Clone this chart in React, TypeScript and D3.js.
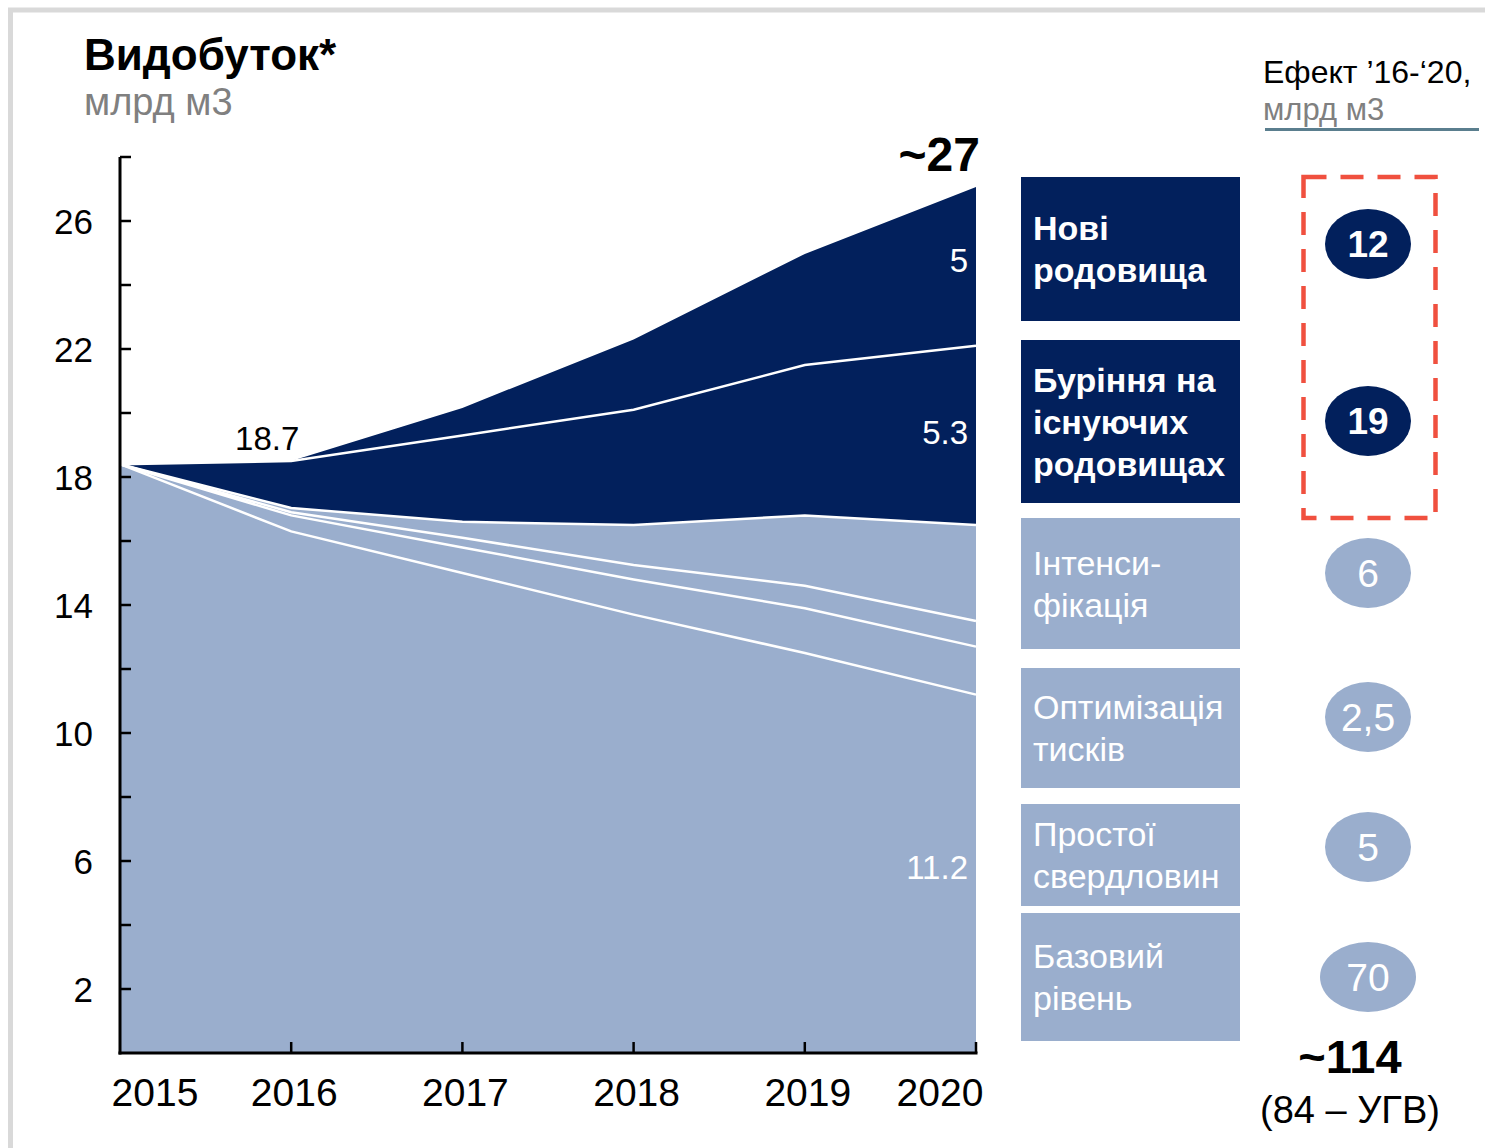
import * as d3 from 'd3'

const years = [2015, 2016, 2017, 2018, 2019, 2020]

// bcm per layer, bottom → top
const baseLevel = [18.4, 16.3, 15.0, 13.7, 12.5, 11.2]
const idleWells = [0, 0.5, 0.8, 1.1, 1.4, 1.5]
const pressureOpt = [0, 0.1, 0.3, 0.45, 0.7, 0.8]
const intensification = [0, 0.13, 0.5, 1.25, 2.2, 3.0]
const drillingExisting = [0, 1.47, 2.7, 3.6, 4.7, 5.6]
const newFields = [0, 0, 0.86, 2.2, 3.47, 4.96]

const yTickLabels = [2, 6, 10, 14, 18, 22, 26]

const layerKeys = ['base', 'idle', 'opt', 'intens', 'drill', 'newf']
const layerDark = ['drill', 'newf']

const legendLines = [
  ['Нові', 'родовища'],
  ['Буріння на', 'існуючих', 'родовищах'],
  ['Інтенси-', 'фікація'],
  ['Оптимізація', 'тисків'],
  ['Простої', 'свердловин'],
  ['Базовий', 'рівень'],
]
const effectValues = ['12', '19', '6', '2,5', '5', '70']

const NAVY = '#02205c'
const LIGHT = '#9aaecd'
const FONT = '"Liberation Sans", Arial, sans-serif'

export default function App() {
  const width = 1485
  const height = 1148
  const left = 120
  const right = 976
  const top = 157
  const bottom = 1053

  const rows = years.map((year, i) => ({
    year,
    base: baseLevel[i],
    idle: idleWells[i],
    opt: pressureOpt[i],
    intens: intensification[i],
    drill: drillingExisting[i],
    newf: newFields[i],
  }))

  const x = d3.scaleLinear().domain([2015, 2020]).range([left, right])
  const y = d3.scaleLinear().domain([0, 28]).range([bottom, top])

  const stack = d3.stack<any>().keys(layerKeys)
  const series = stack(rows)

  const area = d3.area<any>()
    .x(d => x(d.data.year))
    .y0(d => y(d[0]))
    .y1(d => y(d[1]))

  const topLine = d3.line<any>()
    .x(d => x(d.data.year))
    .y(d => y(d[1]))

  const last = years.length - 1
  const totalLast = series[series.length - 1][last][1]
  const mid = (s: any) => y((s[last][0] + s[last][1]) / 2)
  const bandLabel = (key: string) => series.find(s => s.key === key)!

  // legend boxes on the right, top → bottom
  const boxes = [
    { y0: 177, y1: 321, dark: true },
    { y0: 340, y1: 503, dark: true },
    { y0: 518, y1: 649, dark: false },
    { y0: 668, y1: 788, dark: false },
    { y0: 804, y1: 906, dark: false },
    { y0: 913, y1: 1041, dark: false },
  ]
  const ellipseY = [244, 421, 573, 717, 847, 977]

  return (
    <svg
      width={width}
      height={height}
      style={{ position: 'absolute', left: 0, top: 0, background: '#fff' }}
      fontFamily={FONT}
    >
      <rect x={10.5} y={10} width={1520} height={1200} fill="none" stroke="#d9d9d9" strokeWidth={5} />

      {/* titles */}
      <text x={84} y={70} fontSize={44} fontWeight="bold" fill="#000">Видобуток*</text>
      <text x={84} y={115} fontSize={38} fill="#808080">млрд м3</text>

      {/* stacked areas */}
      {series.map(s => (
        <path key={s.key} d={area(s) || ''} fill={layerDark.includes(s.key) ? NAVY : LIGHT} />
      ))}
      {series.slice(0, -1).map(s => (
        <path key={'l' + s.key} d={topLine(s) || ''} fill="none" stroke="#fff" strokeWidth={2.5} />
      ))}

      {/* axes */}
      <line x1={left} x2={left} y1={y(28)} y2={bottom + 1.5} stroke="#000" strokeWidth={3} />
      <line x1={left - 1.5} x2={right + 1.5} y1={bottom} y2={bottom} stroke="#000" strokeWidth={3} />
      {d3.range(2, 29, 2).map(v => (
        <line key={'yt' + v} x1={left} x2={left + 11} y1={y(v)} y2={y(v)} stroke="#000" strokeWidth={2.5} />
      ))}
      {yTickLabels.map(v => (
        <text key={'yl' + v} x={93} y={y(v)} fontSize={35} textAnchor="end" dominantBaseline="central" fill="#000">{v}</text>
      ))}
      {years.slice(1).map(yr => (
        <line key={'xt' + yr} x1={x(yr)} x2={x(yr)} y1={bottom} y2={bottom - 11} stroke="#000" strokeWidth={2.5} />
      ))}
      {years.map(yr => (
        <text
          key={'xl' + yr}
          x={Math.min(Math.max(x(yr) + 3, left + 35), right - 36)}
          y={1106}
          fontSize={39}
          textAnchor="middle"
          fill="#000"
        >{yr}</text>
      ))}

      {/* value labels */}
      <text x={x(2016) - 24} y={450} fontSize={33} textAnchor="middle" fill="#000">18.7</text>
      <text x={right + 4} y={y(totalLast) - 16} fontSize={48} fontWeight="bold" textAnchor="end" fill="#000">~27</text>
      <text x={right - 8} y={mid(bandLabel('newf')) - 6} fontSize={33} textAnchor="end" dominantBaseline="central" fill="#fff">5</text>
      <text x={right - 8} y={y(19.4)} fontSize={33} textAnchor="end" dominantBaseline="central" fill="#fff">5.3</text>
      <text x={right - 8} y={y(5.8)} fontSize={33} textAnchor="end" dominantBaseline="central" fill="#fff">11.2</text>

      {/* legend boxes */}
      {boxes.map((b, i) => (
        <g key={'b' + i}>
          <rect x={1021} y={b.y0} width={219} height={b.y1 - b.y0} fill={b.dark ? NAVY : LIGHT} />
          {legendLines[i].map((t, j) => {
            const n = legendLines[i].length
            const cy = (b.y0 + b.y1) / 2
            const base = cy - 9 - (n - 2) * 21 + j * 42
            return (
              <text key={j} x={1033} y={base} fontSize={34} fontWeight={b.dark ? 'bold' : 'normal'} fill="#fff">{t}</text>
            )
          })}
        </g>
      ))}

      {/* effect header */}
      <text x={1263} y={83} fontSize={32} fill="#000">Ефект ’16-‘20,</text>
      <text x={1263} y={120} fontSize={31} fill="#808080">млрд м3</text>
      <line x1={1265} x2={1479} y1={129.5} y2={129.5} stroke="#5a7e8e" strokeWidth={3} />

      {/* effect ellipses */}
      <rect x={1303.5} y={177} width={132} height={341} fill="none" stroke="#f0503f" strokeWidth={4.5} strokeDasharray="23 14" />
      {effectValues.map((v, i) => {
        const dark = i < 2
        const rx = v === '70' ? 48 : 43
        return (
          <g key={'e' + i}>
            <ellipse cx={1368} cy={ellipseY[i]} rx={rx} ry={35} fill={dark ? NAVY : LIGHT} />
            <text x={1368} y={ellipseY[i]} fontSize={dark ? 37 : 39} fontWeight={dark ? 'bold' : 'normal'}
              textAnchor="middle" dominantBaseline="central" fill="#fff">{v}</text>
          </g>
        )
      })}

      <text x={1350} y={1073} fontSize={47} fontWeight="bold" textAnchor="middle" fill="#000">~114</text>
      <text x={1350} y={1123} fontSize={38} textAnchor="middle" fill="#000">(84 – УГВ)</text>
    </svg>
  )
}
